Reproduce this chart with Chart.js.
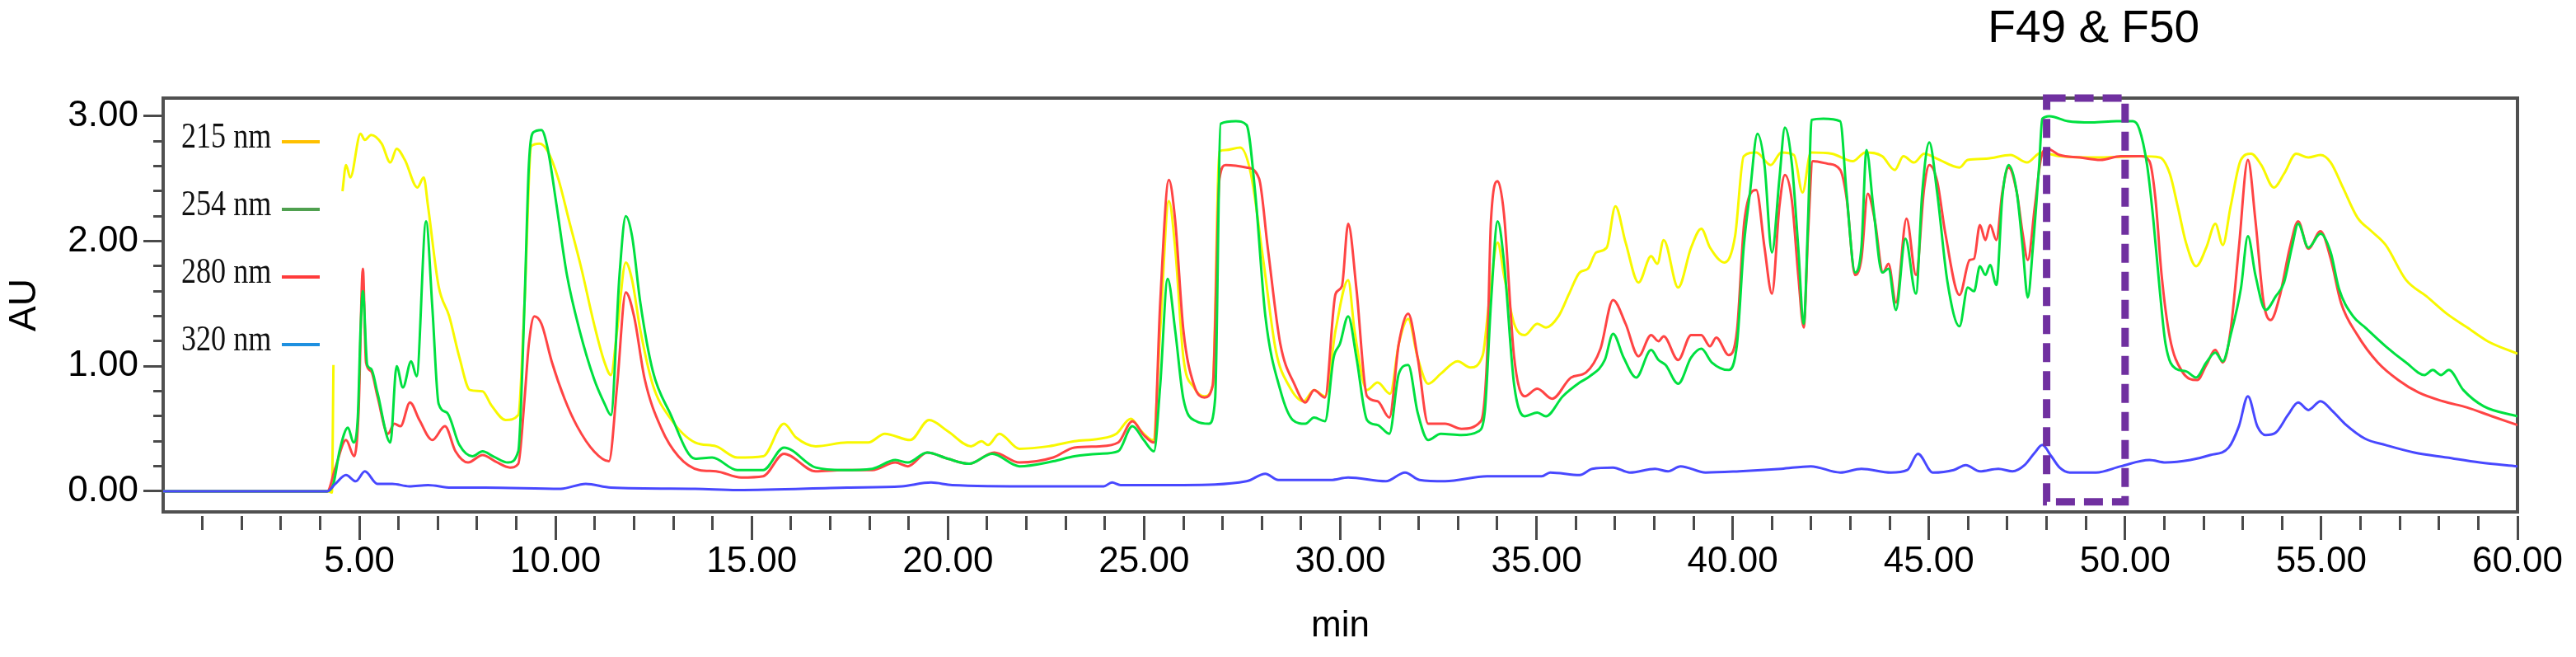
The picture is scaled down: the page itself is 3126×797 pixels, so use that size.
<!DOCTYPE html>
<html>
<head>
<meta charset="utf-8">
<script src="https://cdn.jsdelivr.net/npm/chart.js@4.4.1/dist/chart.umd.min.js"></script>
<style>
html,body{margin:0;padding:0;background:#ffffff;}
canvas{display:block;}
</style>
</head>
<body>
<canvas id="c" width="3126" height="797"></canvas>
<script>
// ---------------- DATA ----------------
const seriesLabels = ['215 nm', '254 nm', '280 nm', '320 nm'];

// 215 nm (retention time, min / absorbance, AU)
const t215 = [
  0, 4.20, 4.30, 4.34, 4.40, 4.57, 4.66, 4.77, 5.03, 5.14,
  5.30, 5.57, 5.79, 5.95, 6.16, 6.48, 6.64, 6.75, 7.02, 7.29,
  7.55, 7.82, 8.14, 8.36, 8.73, 9.05, 9.21, 9.38, 9.59, 9.80,
  10.07, 10.34, 10.66, 10.98, 11.25, 11.41, 11.57, 11.79, 11.95, 12.16,
  12.48, 12.91, 13.56, 14.09, 14.63, 15.29, 15.82, 16.13, 16.63, 17.43,
  17.97, 18.39, 19.04, 19.52, 20.00, 20.59, 20.86, 21.02, 21.31, 21.82,
  22.57, 23.22, 23.86, 24.29, 24.66, 24.93, 25.23, 25.41, 25.63, 25.79,
  26.00, 26.27, 26.54, 26.75, 26.92, 27.08, 27.45, 27.72, 28.04, 28.36,
  28.68, 29.06, 29.33, 29.61, 29.88, 30.20, 30.36, 30.68, 30.95, 31.27,
  31.49, 31.73, 31.97, 32.24, 32.56, 32.99, 33.31, 33.63, 33.79, 34.01,
  34.17, 34.43, 34.70, 35.02, 35.24, 35.56, 35.83, 36.10, 36.31, 36.52,
  36.79, 37.01, 37.27, 37.60, 37.92, 38.08, 38.24, 38.61, 38.94, 39.20,
  39.42, 39.79, 40.06, 40.28, 40.60, 40.97, 41.24, 41.56, 41.78, 41.99,
  42.53, 43.06, 43.38, 43.81, 44.13, 44.35, 44.62, 44.88, 45.21, 45.78,
  45.99, 46.46, 47.08, 47.50, 47.86, 48.33, 49.37, 50.41, 50.88, 51.14,
  51.34, 51.55, 51.81, 52.07, 52.30, 52.49, 52.69, 52.95, 53.21, 53.47,
  53.79, 54.05, 54.36, 54.67, 54.98, 55.24, 55.55, 55.92, 56.28, 56.64,
  57.16, 57.68, 58.20, 58.72, 59.24, 60.00
];
const y215 = [
  0, 0, -0.01, 1.01, null, 2.40, 2.61, 2.51, 2.86, 2.81,
  2.85, 2.78, 2.63, 2.74, 2.65, 2.43, 2.51, 2.28, 1.64, 1.40,
  1.07, 0.81, 0.80, 0.69, 0.57, 0.61, 1.51, 2.76, 2.78, 2.72,
  2.50, 2.17, 1.78, 1.34, 1.03, 0.93, 1.29, 1.83, 1.69, 1.29,
  0.85, 0.59, 0.39, 0.36, 0.27, 0.28, 0.54, 0.43, 0.36, 0.39,
  0.39, 0.46, 0.41, 0.57, 0.48, 0.36, 0.40, 0.37, 0.46, 0.34,
  0.36, 0.40, 0.42, 0.46, 0.58, 0.48, 0.41, 1.29, 2.32, 1.95,
  1.07, 0.83, 0.76, 0.85, 2.72, 2.73, 2.75, 2.54, 1.84, 1.12,
  0.85, 0.72, 0.81, 0.76, 1.29, 1.69, 1.29, 0.81, 0.87, 0.78,
  1.18, 1.38, 1.07, 0.86, 0.94, 1.04, 0.99, 1.09, 1.51, 1.99,
  1.73, 1.34, 1.25, 1.34, 1.31, 1.40, 1.58, 1.75, 1.78, 1.91,
  1.95, 2.28, 1.99, 1.67, 1.88, 1.82, 2.01, 1.63, 1.95, 2.10,
  1.95, 1.83, 2.04, 2.68, 2.71, 2.61, 2.71, 2.69, 2.39, 2.71,
  2.70, 2.64, 2.71, 2.68, 2.57, 2.68, 2.63, 2.70, 2.66, 2.59,
  2.65, 2.66, 2.69, 2.63, 2.71, 2.68, 2.67, 2.68, 2.67, 2.54,
  2.28, 1.99, 1.80, 1.95, 2.14, 1.97, 2.28, 2.65, 2.70, 2.61,
  2.43, 2.54, 2.70, 2.67, 2.69, 2.63, 2.43, 2.19, 2.08, 1.97,
  1.69, 1.56, 1.42, 1.31, 1.20, 1.10
];

// 254 nm
const t254 = [
  0, 4.18, 4.34, 4.50, 4.71, 4.85, 4.96, 5.03, 5.09, 5.20,
  5.30, 5.46, 5.79, 5.95, 6.11, 6.32, 6.46, 6.70, 6.86, 7.02,
  7.23, 7.55, 7.88, 8.14, 8.41, 8.79, 9.05, 9.21, 9.32, 9.43,
  9.64, 9.80, 10.02, 10.29, 10.61, 10.98, 11.25, 11.41, 11.63, 11.79,
  11.95, 12.16, 12.48, 12.91, 13.56, 13.99, 14.63, 15.29, 15.82, 16.63,
  17.32, 18.07, 18.66, 18.98, 19.47, 20.00, 20.54, 21.13, 21.82, 22.68,
  23.22, 23.86, 24.34, 24.70, 24.99, 25.25, 25.41, 25.60, 25.79, 26.00,
  26.33, 26.65, 26.81, 26.95, 27.34, 27.61, 27.83, 28.09, 28.47, 28.79,
  29.11, 29.33, 29.61, 29.83, 29.99, 30.20, 30.41, 30.68, 30.95, 31.25,
  31.49, 31.73, 31.97, 32.24, 32.56, 33.09, 33.52, 33.68, 33.84, 34.01,
  34.17, 34.43, 34.70, 35.02, 35.24, 35.67, 36.10, 36.36, 36.74, 36.95,
  37.22, 37.54, 37.92, 38.11, 38.29, 38.61, 38.94, 39.20, 39.47, 39.90,
  40.11, 40.28, 40.44, 40.63, 40.81, 41.00, 41.19, 41.33, 41.51, 41.67,
  41.81, 41.92, 42.01, 42.31, 42.74, 42.90, 43.12, 43.28, 43.41, 43.58,
  43.81, 43.97, 44.16, 44.40, 44.67, 44.83, 45.01, 45.21, 45.47, 45.78,
  45.99, 46.15, 46.30, 46.44, 46.56, 46.72, 46.87, 47.03, 47.24, 47.39,
  47.52, 47.65, 47.81, 47.89, 48.07, 48.54, 49.16, 49.78, 50.20, 50.36,
  50.56, 50.72, 50.88, 51.03, 51.29, 51.55, 51.81, 52.07, 52.30, 52.49,
  52.69, 52.95, 53.13, 53.32, 53.58, 53.84, 54.05, 54.25, 54.41, 54.67,
  54.98, 55.24, 55.45, 55.81, 56.12, 56.64, 57.16, 57.63, 57.84, 58.05,
  58.25, 58.62, 59.14, 60.00
];
const y254 = [
  0, 0, 0.06, 0.33, 0.51, 0.39, 0.59, 1.29, 1.60, 1.01,
  0.98, 0.79, 0.39, 1.00, 0.83, 1.04, 0.92, 2.16, 1.47, 0.70,
  0.63, 0.37, 0.28, 0.32, 0.28, 0.23, 0.32, 1.51, 2.61, 2.87,
  2.89, 2.74, 2.30, 1.73, 1.29, 0.90, 0.70, 0.61, 1.73, 2.20,
  2.04, 1.51, 0.96, 0.63, 0.26, 0.27, 0.17, 0.17, 0.35, 0.19,
  0.17, 0.18, 0.25, 0.23, 0.31, 0.26, 0.22, 0.30, 0.20, 0.24,
  0.28, 0.30, 0.32, 0.52, 0.41, 0.32, 0.85, 1.70, 1.29, 0.74,
  0.56, 0.54, 0.74, 2.94, 2.96, 2.93, 2.39, 1.40, 0.81, 0.57,
  0.54, 0.59, 0.56, 1.07, 1.18, 1.40, 1.07, 0.57, 0.53, 0.46,
  0.94, 1.01, 0.63, 0.41, 0.46, 0.45, 0.48, 0.63, 1.51, 2.16,
  1.84, 0.85, 0.60, 0.63, 0.60, 0.76, 0.87, 0.92, 1.05, 1.26,
  1.07, 0.91, 1.13, 1.05, 1.01, 0.86, 1.07, 1.14, 1.03, 0.97,
  1.18, 1.95, 2.39, 2.86, 2.61, 1.91, 2.50, 2.91, 2.61, 1.95,
  1.34, 2.17, 2.97, 2.98, 2.96, 2.39, 1.75, 1.95, 2.73, 2.28,
  1.75, 1.78, 1.45, 2.02, 1.58, 2.39, 2.79, 2.39, 1.68, 1.32,
  1.63, 1.60, 1.80, 1.73, 1.81, 1.65, 2.35, 2.61, 2.39, 1.95,
  1.55, 1.95, 2.61, 2.98, 3.00, 2.96, 2.95, 2.96, 2.96, 2.90,
  2.61, 2.17, 1.62, 1.18, 0.98, 0.96, 0.91, 1.03, 1.11, 1.04,
  1.25, 1.62, 2.04, 1.73, 1.45, 1.56, 1.67, 1.95, 2.14, 1.95,
  2.06, 1.91, 1.62, 1.40, 1.31, 1.16, 1.03, 0.93, 0.97, 0.93,
  0.97, 0.81, 0.68, 0.60
];

// 280 nm
const t280 = [
  0, 4.18, 4.39, 4.66, 4.87, 4.98, 5.09, 5.17, 5.30, 5.46,
  5.73, 5.89, 6.05, 6.29, 6.53, 6.86, 7.18, 7.45, 7.77, 8.14,
  8.46, 8.84, 9.05, 9.21, 9.32, 9.46, 9.64, 9.91, 10.23, 10.55,
  10.98, 11.36, 11.57, 11.79, 12.00, 12.27, 12.70, 13.13, 13.66, 14.09,
  14.73, 15.29, 15.82, 16.63, 17.32, 18.07, 18.66, 18.98, 19.47, 20.00,
  20.54, 21.18, 21.82, 22.68, 23.22, 23.86, 24.34, 24.70, 24.99, 25.25,
  25.41, 25.63, 25.79, 26.00, 26.27, 26.54, 26.75, 26.92, 27.08, 27.61,
  27.93, 28.15, 28.47, 28.84, 29.11, 29.33, 29.61, 29.88, 30.04, 30.20,
  30.41, 30.68, 30.95, 31.25, 31.49, 31.73, 31.97, 32.24, 32.67, 33.09,
  33.58, 33.74, 33.84, 34.01, 34.17, 34.43, 34.70, 35.02, 35.40, 35.88,
  36.26, 36.63, 36.95, 37.27, 37.60, 37.92, 38.11, 38.24, 38.61, 38.94,
  39.20, 39.42, 39.58, 39.90, 40.11, 40.30, 40.60, 40.81, 41.00, 41.19,
  41.33, 41.51, 41.67, 41.81, 41.92, 42.04, 42.42, 42.74, 42.90, 43.12,
  43.28, 43.44, 43.62, 43.83, 43.97, 44.16, 44.43, 44.67, 44.88, 45.01,
  45.21, 45.42, 45.78, 46.04, 46.15, 46.30, 46.44, 46.56, 46.72, 46.87,
  47.03, 47.24, 47.39, 47.52, 47.70, 47.86, 48.02, 48.33, 48.85, 49.37,
  49.89, 50.41, 50.62, 50.77, 50.93, 51.14, 51.45, 51.84, 52.07, 52.30,
  52.49, 52.69, 52.90, 53.13, 53.32, 53.53, 53.71, 53.94, 54.20, 54.41,
  54.67, 54.98, 55.24, 55.50, 55.92, 56.44, 56.96, 57.48, 58.10, 58.72,
  59.35, 60.00
];
const y280 = [
  0, 0, 0.19, 0.41, 0.28, 0.63, 1.78, 1.03, 0.96, 0.76,
  0.46, 0.54, 0.52, 0.71, 0.57, 0.41, 0.52, 0.32, 0.23, 0.29,
  0.24, 0.19, 0.22, 0.74, 1.18, 1.40, 1.34, 1.03, 0.74, 0.52,
  0.32, 0.24, 0.85, 1.59, 1.40, 0.90, 0.50, 0.28, 0.17, 0.16,
  0.11, 0.12, 0.30, 0.16, 0.17, 0.17, 0.23, 0.20, 0.31, 0.26,
  0.22, 0.31, 0.23, 0.27, 0.35, 0.36, 0.39, 0.56, 0.45, 0.39,
  1.51, 2.49, 2.17, 1.29, 0.85, 0.75, 0.85, 2.50, 2.61, 2.59,
  2.50, 1.95, 1.18, 0.85, 0.71, 0.81, 0.75, 1.58, 1.64, 2.14,
  1.62, 0.76, 0.72, 0.59, 1.18, 1.42, 1.07, 0.54, 0.54, 0.50,
  0.56, 1.07, 2.17, 2.48, 2.22, 1.07, 0.76, 0.82, 0.74, 0.91,
  0.95, 1.14, 1.53, 1.34, 1.08, 1.25, 1.20, 1.24, 1.05, 1.25,
  1.25, 1.16, 1.23, 1.09, 1.29, 2.17, 2.41, 1.95, 1.58, 2.28,
  2.53, 2.32, 1.73, 1.31, 2.06, 2.64, 2.62, 2.57, 2.35, 1.73,
  1.86, 2.38, 2.17, 1.75, 1.82, 1.51, 2.18, 1.73, 2.43, 2.61,
  2.48, 2.06, 1.57, 1.85, 1.86, 2.13, 2.01, 2.13, 2.01, 2.39,
  2.59, 2.39, 2.06, 1.85, 2.28, 2.67, 2.74, 2.69, 2.67, 2.65,
  2.68, 2.68, 2.64, 2.35, 1.73, 1.23, 0.96, 0.89, 1.01, 1.13,
  1.03, 1.29, 1.95, 2.65, 2.17, 1.51, 1.37, 1.56, 1.95, 2.16,
  1.94, 2.08, 1.86, 1.51, 1.25, 1.03, 0.89, 0.79, 0.72, 0.67,
  0.60, 0.53
];

// 320 nm
const t320 = [
  0, 4.18, 4.39, 4.66, 4.91, 5.14, 5.46, 5.84, 6.27, 6.75,
  7.34, 8.20, 10.13, 10.77, 11.41, 13.56, 14.63, 17.43, 18.82, 19.57,
  20.11, 22.25, 23.97, 24.18, 24.40, 26.00, 27.61, 28.09, 28.42, 29.76,
  30.20, 31.16, 31.65, 32.02, 32.67, 33.74, 35.13, 35.35, 36.10, 36.42,
  36.95, 37.38, 38.02, 38.35, 38.67, 39.31, 40.17, 41.24, 41.99, 42.74,
  43.28, 44.03, 44.45, 44.72, 45.10, 45.63, 45.94, 46.30, 46.77, 47.13,
  47.44, 47.70, 47.89, 48.12, 48.33, 48.59, 49.26, 49.89, 50.62, 51.03,
  51.66, 52.17, 52.64, 52.90, 53.13, 53.37, 53.58, 53.84, 54.15, 54.41,
  54.67, 54.98, 55.29, 55.60, 56.12, 56.64, 57.37, 58.20, 59.04, 60.00
];
const y320 = [
  0, 0, 0.06, 0.13, 0.08, 0.16, 0.06, 0.06, 0.04, 0.05,
  0.03, 0.03, 0.02, 0.06, 0.03, 0.02, 0.01, 0.03, 0.04, 0.07,
  0.05, 0.04, 0.04, 0.07, 0.05, 0.05, 0.08, 0.14, 0.09, 0.09,
  0.11, 0.08, 0.15, 0.09, 0.08, 0.12, 0.12, 0.15, 0.13, 0.18,
  0.19, 0.15, 0.18, 0.16, 0.20, 0.15, 0.16, 0.18, 0.20, 0.15,
  0.18, 0.15, 0.17, 0.30, 0.15, 0.17, 0.21, 0.16, 0.18, 0.16,
  0.21, 0.31, 0.37, 0.28, 0.19, 0.15, 0.15, 0.20, 0.25, 0.23,
  0.25, 0.29, 0.35, 0.52, 0.76, 0.52, 0.45, 0.47, 0.61, 0.71,
  0.65, 0.72, 0.64, 0.54, 0.42, 0.37, 0.31, 0.27, 0.23, 0.20
];

// Axis ticks
const xTickValues = [5, 10, 15, 20, 25, 30, 35, 40, 45, 50, 55, 60];
const xTickLabels = ['5.00', '10.00', '15.00', '20.00', '25.00', '30.00', '35.00', '40.00', '45.00', '50.00', '55.00', '60.00'];
const yTickValues = [0, 1, 2, 3];
const yTickLabels = ['0.00', '1.00', '2.00', '3.00'];
const xRange = [0, 60];
const yRange = [-0.165, 3.145];

// Highlighted fraction window
const boxRange = [48, 50];
const boxBottom = -0.085;
const boxLabel = 'F49 & F50';
const boxLabelAt = 49.2;

// ---------------- STYLE ----------------
const lineColors = ['#F8F800', '#00E040', '#FF4444', '#4848FF'];
const legendColors = ['#FFC000', '#4FA04F', '#FF3B3B', '#1E90E0'];
const SANS = '"Liberation Sans", Arial, sans-serif';
const SERIF = '"Liberation Serif", "Times New Roman", serif';

function pts(t, y) { return t.map((x, i) => ({x: x, y: y[i]})); }

const near = (a, b) => Math.abs(a - b) < 1e-6;

const framePlugin = {
  id: 'frame',
  beforeDatasetsDraw(chart) {
    const {ctx, chartArea: a} = chart;
    ctx.save();
    ctx.strokeStyle = '#505050';
    ctx.lineWidth = 4;
    ctx.strokeRect(a.left, a.top, a.right - a.left, a.bottom - a.top);
    ctx.restore();
  }
};

const boxPlugin = {
  id: 'fractionBox',
  afterDatasetsDraw(chart) {
    const {ctx, scales: {x, y}} = chart;
    const x0 = x.getPixelForValue(boxRange[0]);
    const x1 = x.getPixelForValue(boxRange[1]);
    const y0 = y.getPixelForValue(y.max);
    const y1 = y.getPixelForValue(boxBottom);
    ctx.save();
    ctx.strokeStyle = '#7030A0';
    ctx.lineWidth = 9;
    ctx.setLineDash([23, 11]);
    ctx.strokeRect(x0, y0, x1 - x0, y1 - y0);
    ctx.setLineDash([]);
    ctx.fillStyle = '#000000';
    ctx.font = '55px ' + SANS;
    ctx.textAlign = 'center';
    ctx.textBaseline = 'middle';
    ctx.fillText(boxLabel, x.getPixelForValue(boxLabelAt), 36);
    ctx.restore();
  }
};

const legendPlugin = {
  id: 'sideLegend',
  afterDraw(chart) {
    const {ctx, chartArea: a} = chart;
    ctx.save();
    ctx.font = '44px ' + SERIF;
    ctx.textAlign = 'left';
    ctx.textBaseline = 'middle';
    seriesLabels.forEach((lab, i) => {
      const yy = a.top + 48 + i * 82;
      ctx.save();
      ctx.translate(a.left + 22, yy);
      ctx.scale(0.82, 1);
      ctx.fillStyle = '#111111';
      ctx.fillText(lab, 0, 0);
      ctx.restore();
      ctx.strokeStyle = legendColors[i];
      ctx.lineWidth = 4;
      ctx.beginPath();
      ctx.moveTo(a.left + 144, yy + 5);
      ctx.lineTo(a.left + 190, yy + 5);
      ctx.stroke();
    });
    ctx.restore();
  }
};

const seriesT = [t215, t254, t280, t320];
const seriesY = [y215, y254, y280, y320];
const drawOrder = [4, 2, 3, 1];

const datasets = seriesLabels.map((lab, i) => ({
  label: lab,
  data: pts(seriesT[i], seriesY[i]),
  borderColor: lineColors[i],
  backgroundColor: lineColors[i],
  borderWidth: 3,
  pointRadius: 0,
  fill: false,
  spanGaps: false,
  cubicInterpolationMode: 'monotone',
  order: drawOrder[i]
}));

new Chart(document.getElementById('c'), {
  type: 'line',
  data: {datasets: datasets},
  plugins: [framePlugin, boxPlugin, legendPlugin],
  options: {
    responsive: false,
    devicePixelRatio: 1,
    animation: false,
    events: [],
    layout: {padding: {top: 119, right: 71, bottom: 0, left: 0}},
    plugins: {legend: {display: false}, tooltip: {enabled: false}, title: {display: false}},
    scales: {
      x: {
        type: 'linear',
        position: 'bottom',
        min: xRange[0],
        max: xRange[1],
        afterFit: (s) => { s.height = 176; },
        afterBuildTicks: (s) => {
          const ticks = [];
          for (let v = xRange[0]; v <= xRange[1]; v += 1) ticks.push({value: v});
          s.ticks = ticks;
        },
        border: {display: false},
        grid: {
          display: true,
          drawOnChartArea: false,
          drawTicks: true,
          tickLength: 34,
          tickWidth: 3,
          tickColor: (c) => (c.tick && c.tick.value === 0) ? 'rgba(0,0,0,0)' : '#4a4a4a',
          tickBorderDash: (c) => {
            const v = c.tick ? c.tick.value : 0;
            return xTickValues.some(m => near(m, v)) ? [0, 5, 29, 200] : [0, 5, 17, 200];
          }
        },
        ticks: {
          autoSkip: false,
          maxRotation: 0,
          minRotation: 0,
          padding: 0,
          color: '#000000',
          font: {family: SANS, size: 44},
          callback: (v) => {
            const i = xTickValues.findIndex(m => near(m, v));
            return i >= 0 ? xTickLabels[i] : '';
          }
        },
        title: {
          display: true,
          text: 'min',
          color: '#000000',
          font: {family: SANS, size: 44},
          padding: {top: 0, bottom: 11}
        }
      },
      y: {
        type: 'linear',
        position: 'left',
        min: yRange[0],
        max: yRange[1],
        afterFit: (s) => { s.width = 198; },
        afterBuildTicks: (s) => {
          const ticks = [];
          for (let k = 0; k <= 15; k++) ticks.push({value: Math.round(k * 0.2 * 1000) / 1000});
          s.ticks = ticks;
        },
        border: {display: false},
        grid: {
          display: true,
          drawOnChartArea: false,
          drawTicks: true,
          tickLength: 24,
          tickWidth: 3,
          tickColor: '#4a4a4a',
          tickBorderDash: (c) => {
            const v = c.tick ? c.tick.value : 0;
            return yTickValues.some(m => near(m, v)) ? [22, 200] : [0, 12, 10, 200];
          }
        },
        ticks: {
          autoSkip: false,
          padding: 6,
          color: '#000000',
          font: {family: SANS, size: 44},
          callback: (v) => {
            const i = yTickValues.findIndex(m => near(m, v));
            return i >= 0 ? yTickLabels[i] : '';
          }
        },
        title: {
          display: true,
          text: 'AU',
          color: '#000000',
          font: {family: SANS, size: 46},
          padding: {top: 3, bottom: 0}
        }
      }
    }
  }
});
</script>
</body>
</html>
